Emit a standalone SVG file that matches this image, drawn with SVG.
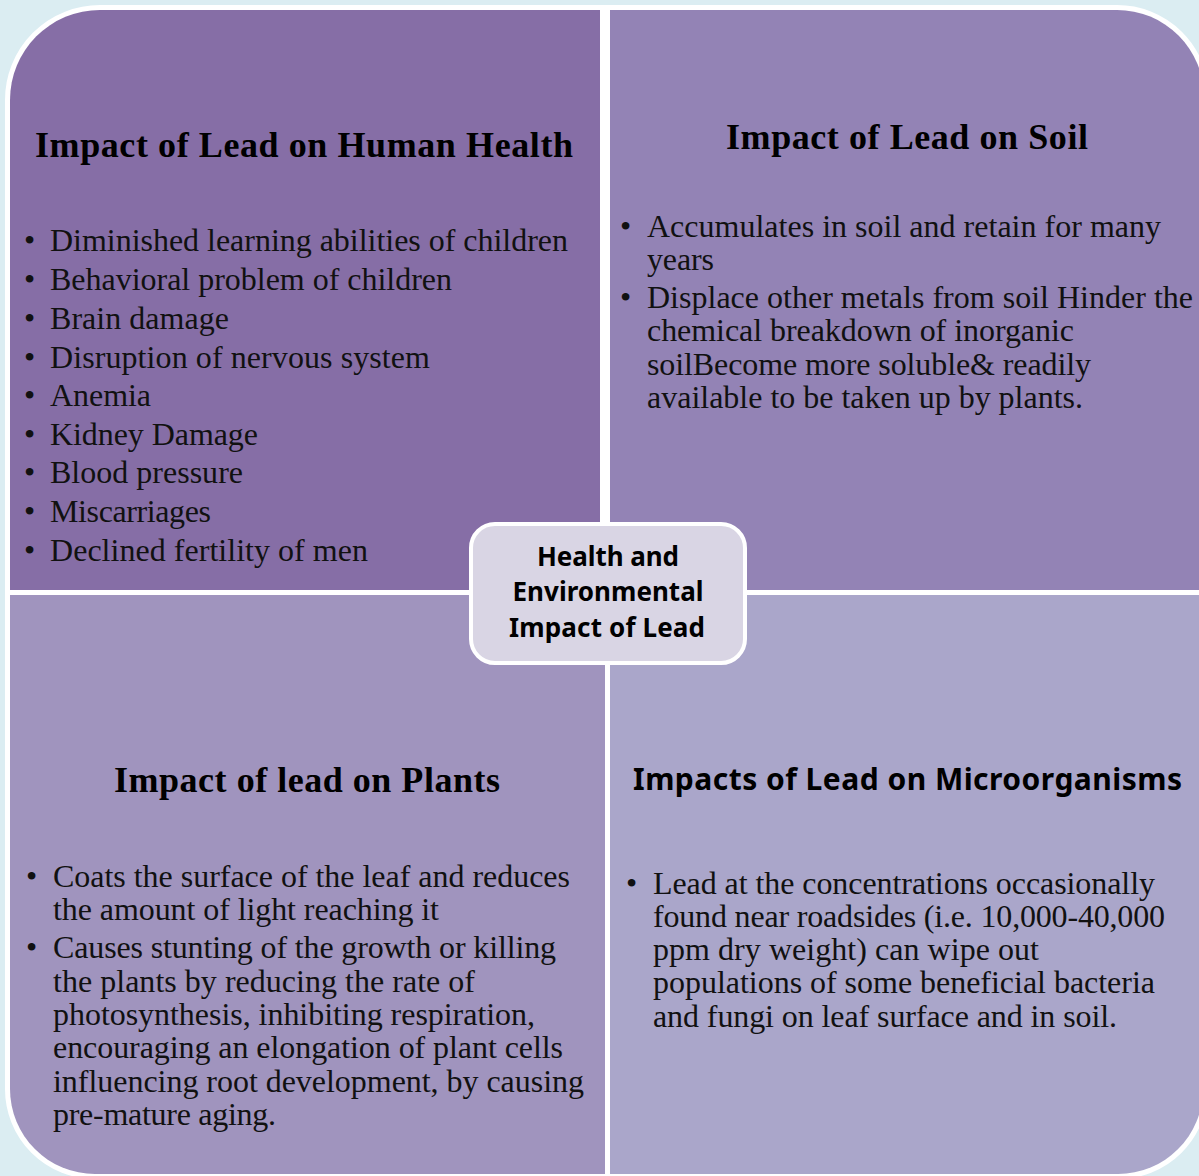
<svg xmlns="http://www.w3.org/2000/svg" width="1199" height="1176" viewBox="0 0 1199 1176">
<style>
.quad{stroke:#ffffff;stroke-width:10;paint-order:stroke}
.title{font-family:"Liberation Serif","Times New Roman",serif;font-weight:bold;font-size:36px;fill:#000}
.body{font-family:"Liberation Serif","Times New Roman",serif;font-size:32px;fill:#111}
.sans{font-family:"Noto Sans","Open Sans",sans-serif;font-weight:bold;fill:#000}
</style>
<rect x="0" y="0" width="1199" height="1176" fill="#dbedf2"/>
<g id="quadrant-human-health">
<path class="quad" fill="#866ea6" d="M10,100 A90,90 0 0 1 100,10 L600,10 L600,590 L10,590 Z"/>
<text class="title" x="35" y="157" textLength="538">Impact of Lead on Human Health</text>
<g class="body">
<text x="24" y="251">•</text><text x="50" y="251" textLength="518">Diminished learning abilities  of children</text>
<text x="24" y="290">•</text><text x="50" y="290" textLength="402">Behavioral problem of children</text>
<text x="24" y="329">•</text><text x="50" y="329" textLength="179">Brain damage</text>
<text x="24" y="368">•</text><text x="50" y="368" textLength="380">Disruption of nervous system</text>
<text x="24" y="406">•</text><text x="50" y="406" textLength="101">Anemia</text>
<text x="24" y="445">•</text><text x="50" y="445" textLength="208">Kidney Damage</text>
<text x="24" y="483">•</text><text x="50" y="483" textLength="193">Blood pressure</text>
<text x="24" y="522">•</text><text x="50" y="522" textLength="161">Miscarriages</text>
<text x="24" y="561">•</text><text x="50" y="561" textLength="318">Declined fertility  of men</text>
</g>
</g>
<g id="quadrant-soil">
<path class="quad" fill="#9383b5" d="M610,10 L1117,10 A87,87 0 0 1 1204,97 L1204,590 L610,590 Z"/>
<text class="title" x="726" y="149" textLength="362">Impact of Lead on Soil</text>
<g class="body">
<text x="620" y="237">•</text><text x="647" y="237" textLength="514">Accumulates in soil and retain for many</text>
<text x="647" y="270" textLength="67">years</text>
<text x="620" y="308">•</text><text x="647" y="308" textLength="546">Displace other metals from soil Hinder the</text>
<text x="647" y="341" textLength="427">chemical breakdown of inorganic</text>
<text x="647" y="375" textLength="444">soilBecome more soluble&amp; readily</text>
<text x="647" y="408" textLength="436">available  to be taken up by plants.</text>
</g>
</g>
<g id="quadrant-plants">
<path class="quad" fill="#a094be" d="M10,595 L605,595 L605,1174 L95,1174 A85,85 0 0 1 10,1089 Z"/>
<text class="title" x="114" y="792" textLength="386">Impact of lead on Plants</text>
<g class="body">
<text x="26" y="887">•</text><text x="53" y="887" textLength="517">Coats the surface of the leaf and reduces</text>
<text x="53" y="920" textLength="386">the amount of light reaching it</text>
<text x="26" y="958">•</text><text x="53" y="958" textLength="503">Causes stunting of the growth or killing</text>
<text x="53" y="992" textLength="422">the plants by reducing the rate of</text>
<text x="53" y="1025" textLength="482">photosynthesis, inhibiting respiration,</text>
<text x="53" y="1058" textLength="510">encouraging an elongation of plant cells</text>
<text x="53" y="1092" textLength="531">influencing root development, by causing</text>
<text x="53" y="1125" textLength="223">pre-mature aging.</text>
</g>
</g>
<g id="quadrant-microorganisms">
<path class="quad" fill="#aaa6ca" d="M610,595 L1203,595 L1203,1089 A85,85 0 0 1 1118,1174 L610,1174 Z"/>
<text class="sans" x="633" y="790" font-size="30" textLength="549">Impacts of Lead on Microorganisms</text>
<g class="body">
<text x="626" y="894">•</text><text x="653" y="894" textLength="502">Lead at the concentrations occasionally</text>
<text x="653" y="927" textLength="512">found near roadsides (i.e.  10,000-40,000</text>
<text x="653" y="960" textLength="386">ppm dry weight) can wipe out</text>
<text x="653" y="993" textLength="502">populations of some beneficial  bacteria</text>
<text x="653" y="1027" textLength="464">and fungi on leaf surface and in soil.</text>
</g>
</g>
<g id="center-node">
<rect x="471" y="524" width="274" height="139" rx="24" ry="24" fill="#d9d5e4" stroke="#ffffff" stroke-width="4"/>
<g class="sans" font-size="26" text-anchor="middle">
<text x="608" y="566" textLength="142">Health and</text>
<text x="608" y="601" textLength="191">Environmental</text>
<text x="607" y="637" textLength="196">Impact of Lead</text>
</g>
</g>
<g id="connectors"></g>
</svg>
